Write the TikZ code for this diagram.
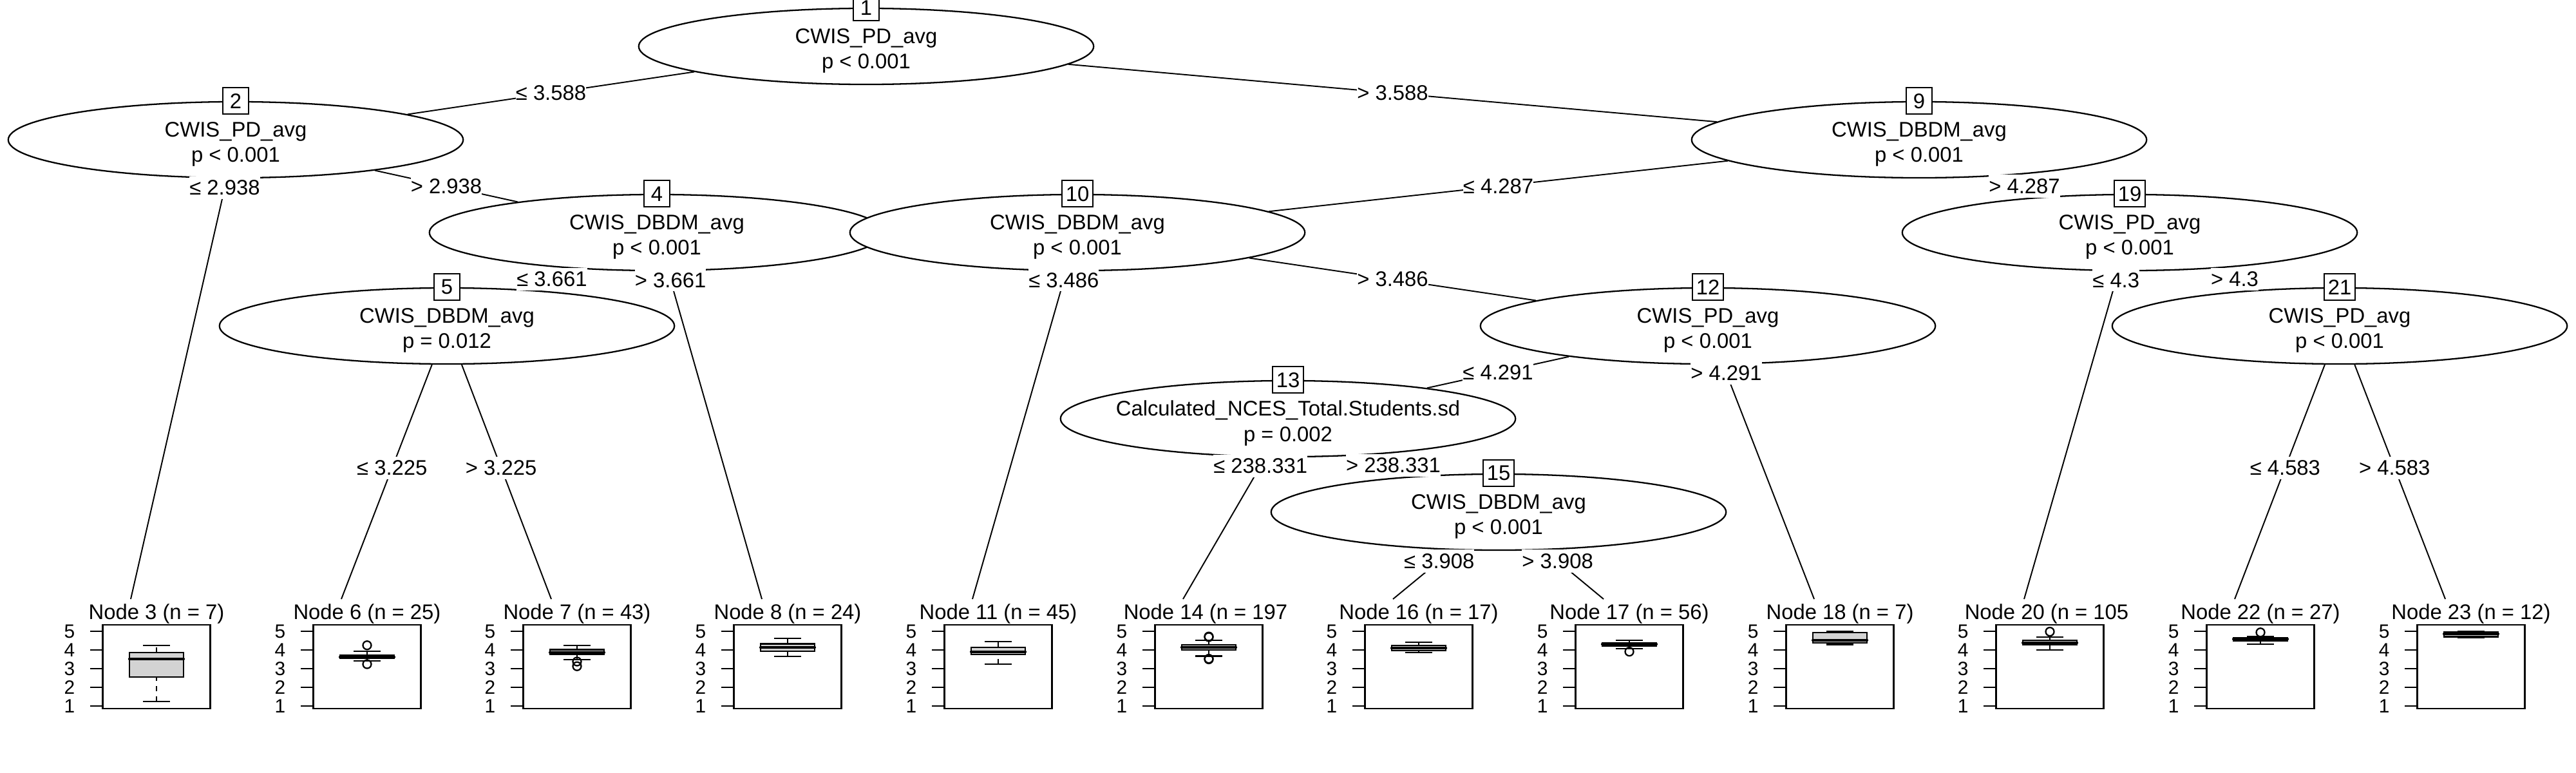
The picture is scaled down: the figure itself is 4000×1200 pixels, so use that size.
\documentclass[tikz,border=0pt]{standalone}
\usepackage{fontspec}
\setmainfont{Liberation Sans}
\usetikzlibrary{shapes.geometric}
\definecolor{boxgray}{HTML}{D3D3D3}
\newcommand{\mainsz}{\fontsize{9.33pt}{11.1pt}\selectfont}
\newcommand{\ticksz}{\fontsize{8.5pt}{9pt}\selectfont}
\newcommand{\boxpanel}[6]{%
  \draw [panel] ({#1-83.5},970) rectangle ({#1+83.5},1100);
  \foreach \yv in {1,...,5}
    \draw [panel] ({#1-83.5},{1125-29*\yv}) -- ({#1-103.5},{1125-29*\yv}) node [axlbl] {\yv};
  \draw [panel, whisk] (#1,{1125-29*#2}) -- (#1,{1125-29*#3});
  \draw [panel, whisk] (#1,{1125-29*#5}) -- (#1,{1125-29*#6});
  \draw [panel] ({#1-21},{1125-29*#2}) -- ({#1+21},{1125-29*#2});
  \draw [panel] ({#1-21},{1125-29*#6}) -- ({#1+21},{1125-29*#6});
  \filldraw [panel, fill=boxgray] ({#1-42},{1125-29*#3}) rectangle ({#1+42},{1125-29*#5});
  \draw [median] ({#1-42},{1125-29*#4}) -- ({#1+42},{1125-29*#4});
}
\newcommand{\outl}[2]{\draw [panel] (#1,{1125-29*#2}) circle [radius=0.065cm];}
\tikzset{
  inode/.style={ellipse, draw, fill=white, line width=0.65pt, minimum width=7.06cm, minimum height=1.18cm, inner sep=0pt},
  itext/.style={align=center, font=\mainsz, inner sep=0pt},
  idbox/.style={rectangle, draw, fill=white, line width=0.65pt, minimum width=0.4cm, minimum height=0.41cm, inner xsep=0.06cm, inner ysep=0pt, font=\mainsz},
  elbl/.style={fill=white, inner xsep=0pt, inner ysep=0.06cm, font=\mainsz},
  link/.style={line width=0.55pt},
  tlbl/.style={inner sep=0pt, font=\mainsz},
  panel/.style={line width=0.65pt},
  whisk/.style={dash pattern=on 2.3pt off 2.3pt},
  median/.style={line width=1.2pt, line cap=round},
  axlbl/.style={anchor=east, inner sep=0pt, xshift=-0.22cm, font=\ticksz}
}

\begin{document}
\begin{tikzpicture}[x=0.01cm, y=-0.01cm]
          \path [use as bounding box, fill=white] (0,0) rectangle (4000,1200);

          \coordinate (P3) at (203,930);
          \coordinate (P6) at (530,930);
          \coordinate (P7) at (856,930);
          \coordinate (P8) at (1183,930);
          \coordinate (P11) at (1510,930);
          \coordinate (P14) at (1837,930);
          \coordinate (P16) at (2163,930);
          \coordinate (P17) at (2490,930);
          \coordinate (P18) at (2817,930);
          \coordinate (P20) at (3143,930);
          \coordinate (P22) at (3470,930);
          \coordinate (P23) at (3797,930);

          \node [tlbl] (L3) at (243,953) {Node 3 (n = 7)};
          \node [tlbl] (L6) at (570,953) {Node 6 (n = 25)};
          \node [tlbl] (L7) at (896,953) {Node 7 (n = 43)};
          \node [tlbl] (L8) at (1223,953) {Node 8 (n = 24)};
          \node [tlbl] (L11) at (1550,953) {Node 11 (n = 45)};
          \node [tlbl] (L14) at (1872,953) {Node 14 (n = 197};
          \node [tlbl] (L16) at (2203,953) {Node 16 (n = 17)};
          \node [tlbl] (L17) at (2530,953) {Node 17 (n = 56)};
          \node [tlbl] (L18) at (2857,953) {Node 18 (n = 7)};
          \node [tlbl] (L20) at (3178,953) {Node 20 (n = 105};
          \node [tlbl] (L22) at (3510,953) {Node 22 (n = 27)};
          \node [tlbl] (L23) at (3837,953) {Node 23 (n = 12)};

          \boxpanel{243}{1.24}{2.56}{3.52}{3.87}{4.23}
          \boxpanel{570}{3.41}{3.56}{3.62}{3.71}{3.94}
          \outl{570}{4.25} \outl{570}{3.24}
          \boxpanel{896}{3.48}{3.77}{3.87}{4.02}{4.23}
          \outl{896}{3.38} \outl{896}{3.13}
          \boxpanel{1223}{3.66}{3.93}{4.13}{4.33}{4.63}
          \boxpanel{1550}{3.24}{3.76}{3.91}{4.14}{4.45}
          \boxpanel{1877}{3.67}{4.00}{4.14}{4.28}{4.52}
          \outl{1877}{4.69} \outl{1877}{4.72} \outl{1877}{3.53} \outl{1877}{3.50}
          \boxpanel{2203}{3.87}{3.97}{4.10}{4.25}{4.41}
          \boxpanel{2530}{4.08}{4.22}{4.31}{4.39}{4.52}
          \outl{2530}{3.91}
          \boxpanel{2857}{4.29}{4.37}{4.53}{4.92}{4.98}
          \boxpanel{3183}{4.00}{4.28}{4.39}{4.52}{4.69}
          \outl{3183}{4.98}
          \boxpanel{3510}{4.31}{4.49}{4.58}{4.66}{4.71}
          \outl{3510}{4.94}
          \boxpanel{3837}{4.66}{4.71}{4.86}{4.97}{4.98}

          \node [inode] (N1) at (1345,72) {};
          \node [itext] (T1) at ([yshift=-0.07cm]N1.center) {CWIS\_PD\_avg\\p < 0.001};
          \node [idbox] (B1) at (N1.north) {1};
          \node [inode] (N2) at (366,217) {};
          \node [itext] (T2) at ([yshift=-0.07cm]N2.center) {CWIS\_PD\_avg\\p < 0.001};
          \node [idbox] (B2) at (N2.north) {2};
          \node [inode] (N4) at (1020,361) {};
          \node [itext] (T4) at ([yshift=-0.07cm]N4.center) {CWIS\_DBDM\_avg\\p < 0.001};
          \node [idbox] (B4) at (N4.north) {4};
          \node [inode] (N5) at (694,506) {};
          \node [itext] (T5) at ([yshift=-0.07cm]N5.center) {CWIS\_DBDM\_avg\\p = 0.012};
          \node [idbox] (B5) at (N5.north) {5};
          \node [inode] (N9) at (2980,217) {};
          \node [itext] (T9) at ([yshift=-0.07cm]N9.center) {CWIS\_DBDM\_avg\\p < 0.001};
          \node [idbox] (B9) at (N9.north) {9};
          \node [inode] (N10) at (1673,361) {};
          \node [itext] (T10) at ([yshift=-0.07cm]N10.center) {CWIS\_DBDM\_avg\\p < 0.001};
          \node [idbox] (B10) at (N10.north) {10};
          \node [inode] (N12) at (2652,506) {};
          \node [itext] (T12) at ([yshift=-0.07cm]N12.center) {CWIS\_PD\_avg\\p < 0.001};
          \node [idbox] (B12) at (N12.north) {12};
          \node [inode] (N13) at (2000,650) {};
          \node [itext] (T13) at ([yshift=-0.07cm]N13.center) {Calculated\_NCES\_Total.Students.sd\\p = 0.002};
          \node [idbox] (B13) at (N13.north) {13};
          \node [inode] (N15) at (2327,795) {};
          \node [itext] (T15) at ([yshift=-0.07cm]N15.center) {CWIS\_DBDM\_avg\\p < 0.001};
          \node [idbox] (B15) at (N15.north) {15};
          \node [inode] (N19) at (3307,361) {};
          \node [itext] (T19) at ([yshift=-0.07cm]N19.center) {CWIS\_PD\_avg\\p < 0.001};
          \node [idbox] (B19) at (N19.north) {19};
          \node [inode] (N21) at (3633,506) {};
          \node [itext] (T21) at ([yshift=-0.07cm]N21.center) {CWIS\_PD\_avg\\p < 0.001};
          \node [idbox] (B21) at (N21.north) {21};

          \draw [link] (N1) -- node [elbl] {≤ 3.588} (N2);
          \draw [link] (N1) -- node [elbl] {> 3.588} (N9);
          \draw [link] (N2) -- node [elbl, pos=0.022] {≤ 2.938} (P3);
          \draw [link] (N2) -- node [elbl] {> 2.938} (N4);
          \draw [link] (N4) -- node [elbl] {≤ 3.661} (N5);
          \draw [link] (N4) -- node [elbl, pos=0.027] {> 3.661} (P8);
          \draw [link] (N5) -- node [elbl, pos=0.44] {≤ 3.225} (P6);
          \draw [link] (N5) -- node [elbl, pos=0.44] {> 3.225} (P7);
          \draw [link] (N9) -- node [elbl] {≤ 4.287} (N10);
          \draw [link] (N9) -- node [elbl] {> 4.287} (N19);
          \draw [link] (N10) -- node [elbl, pos=0.027] {≤ 3.486} (P11);
          \draw [link] (N10) -- node [elbl] {> 3.486} (N12);
          \draw [link] (N12) -- node [elbl] {≤ 4.291} (N13);
          \draw [link] (N12) -- node [elbl, pos=0.036] {> 4.291} (P18);
          \draw [link] (N13) -- node [elbl, pos=0.062] {≤ 238.331} (P14);
          \draw [link] (N13) -- node [elbl] {> 238.331} (N15);
          \draw [link] (N15) -- node [elbl, pos=0.223] {≤ 3.908} (P16);
          \draw [link] (N15) -- node [elbl, pos=0.223] {> 3.908} (P17);
          \draw [link] (N19) -- node [elbl, pos=0.027] {≤ 4.3} (P20);
          \draw [link] (N19) -- node [elbl] {> 4.3} (N21);
          \draw [link] (N21) -- node [elbl, pos=0.44] {≤ 4.583} (P22);
          \draw [link] (N21) -- node [elbl, pos=0.44] {> 4.583} (P23);
\end{tikzpicture}
\end{document}
